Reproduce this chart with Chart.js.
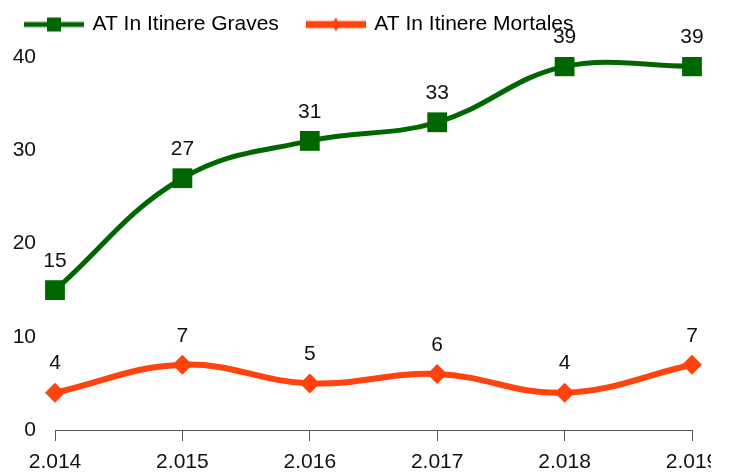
<!DOCTYPE html>
<html>
<head>
<meta charset="utf-8">
<script src="https://cdn.jsdelivr.net/npm/chart.js@4/dist/chart.umd.min.js"></script>
<style>
  html, body { margin: 0; padding: 0; background: #fff; overflow: hidden; }
  .chart-holder { position: relative; width: 711px; height: 474px; }
</style>
</head>
<body>
<div class="chart-holder"><canvas id="chart"></canvas></div>
<script>
const years = ['2.014', '2.015', '2.016', '2.017', '2.018', '2.019'];
const graves = [15, 27, 31, 33, 39, 39];
const mortales = [4, 7, 5, 6, 4, 7];
const yTicks = [0, 10, 20, 30, 40];

const GREEN = '#006600';
const RED = '#ff420e';
const FAMILY = '"Liberation Sans", Arial, sans-serif';
const FONT = { family: FAMILY, size: 21 };
const X_FONT = { family: FAMILY, size: 21, lineHeight: 1 };
const LEGEND_TOP = -15;

// small canvases used as legend symbols: line + marker
const legendSymbol = (color, lineWidth, marker) => {
  const c = document.createElement('canvas');
  c.width = 60;
  c.height = 16;
  const ctx = c.getContext('2d');
  ctx.fillStyle = color;
  ctx.fillRect(0, 8 - lineWidth / 2, 60, lineWidth);
  if (marker === 'square') {
    ctx.fillRect(23, 1, 14, 14);
  } else {
    ctx.beginPath();
    ctx.moveTo(30, 1);
    ctx.lineTo(34, 8);
    ctx.lineTo(30, 15);
    ctx.lineTo(26, 8);
    ctx.closePath();
    ctx.fill();
  }
  return c;
};

const valueLabels = {
  id: 'valueLabels',
  afterDatasetsDraw(chart) {
    const { ctx } = chart;
    ctx.save();
    ctx.font = `${FONT.size}px ${FONT.family}`;
    ctx.fillStyle = '#111';
    ctx.textAlign = 'center';
    ctx.textBaseline = 'middle';
    chart.data.datasets.forEach((ds, i) => {
      chart.getDatasetMeta(i).data.forEach((pt, j) => {
        ctx.fillText(String(ds.data[j]), pt.x, pt.y - 29);
      });
    });
    ctx.restore();
  },
};

// keep the wide legend spacing but pull the legend up to the top edge
const legendNudge = {
  id: 'legendNudge',
  afterInit(chart) {
    const lg = chart.legend;
    const fit = lg.fit.bind(lg);
    lg.fit = () => {
      fit();
      lg.height = Math.min(lg.height, 44);
    };
  },
  beforeDraw(chart) {
    const lg = chart.legend;
    lg.top = LEGEND_TOP;
    lg.bottom = LEGEND_TOP + 60;
    lg.height = 60;
  },
};

const symbols = [legendSymbol(GREEN, 5, 'square'), legendSymbol(RED, 7, 'diamond')];

new Chart(document.getElementById('chart'), {
  type: 'line',
  data: {
    labels: years,
    datasets: [
      {
        label: 'AT In Itinere Graves',
        data: graves,
        borderColor: GREEN,
        backgroundColor: GREEN,
        borderWidth: 5,
        tension: 0.4,
        pointStyle: 'rect',
        pointRadius: 14,
        pointBorderWidth: 0,
        pointHoverRadius: 14,
      },
      {
        label: 'AT In Itinere Mortales',
        data: mortales,
        borderColor: RED,
        backgroundColor: RED,
        borderWidth: 6,
        tension: 0.4,
        pointStyle: 'rectRot',
        pointRadius: 10,
        pointBorderWidth: 0,
        pointHoverRadius: 10,
      },
    ],
  },
  options: {
    responsive: true,
    maintainAspectRatio: false,
    animation: false,
    layout: { padding: { left: -3, right: 19, top: 0, bottom: 0 } },
    plugins: {
      tooltip: { enabled: false },
      legend: {
        display: true,
        position: 'top',
        align: 'start',
        labels: {
          color: '#111',
          font: FONT,
          usePointStyle: true,
          pointStyleWidth: 56,
          padding: 29,
          generateLabels: (chart) => chart.data.datasets.map((ds, i) => ({
            text: ds.label,
            pointStyle: symbols[i],
            fillStyle: ds.borderColor,
            strokeStyle: ds.borderColor,
            lineWidth: 0,
            datasetIndex: i,
            hidden: false,
          })),
        },
      },
    },
    scales: {
      x: {
        offset: false,
        border: { display: true, color: '#555', width: 1 },
        grid: { display: true, drawOnChartArea: false, drawTicks: true, tickLength: 11, color: '#555' },
        ticks: { color: '#111', font: X_FONT, padding: 11, maxRotation: 0, autoSkip: false },
        afterFit: (scale) => {
          scale.paddingLeft = 0;
          scale.paddingRight = 0;
          scale.height = 44;
        },
      },
      y: {
        min: 0,
        max: 40,
        border: { display: false },
        grid: { display: false, drawTicks: false },
        afterBuildTicks: (scale) => {
          scale.ticks = yTicks.map((v) => ({ value: v }));
        },
        ticks: { color: '#111', font: FONT, padding: 19 },
        afterFit: (scale) => {
          scale.width = 58;
          scale.paddingTop = 57;
        },
      },
    },
  },
  plugins: [valueLabels, legendNudge],
});
</script>
</body>
</html>
